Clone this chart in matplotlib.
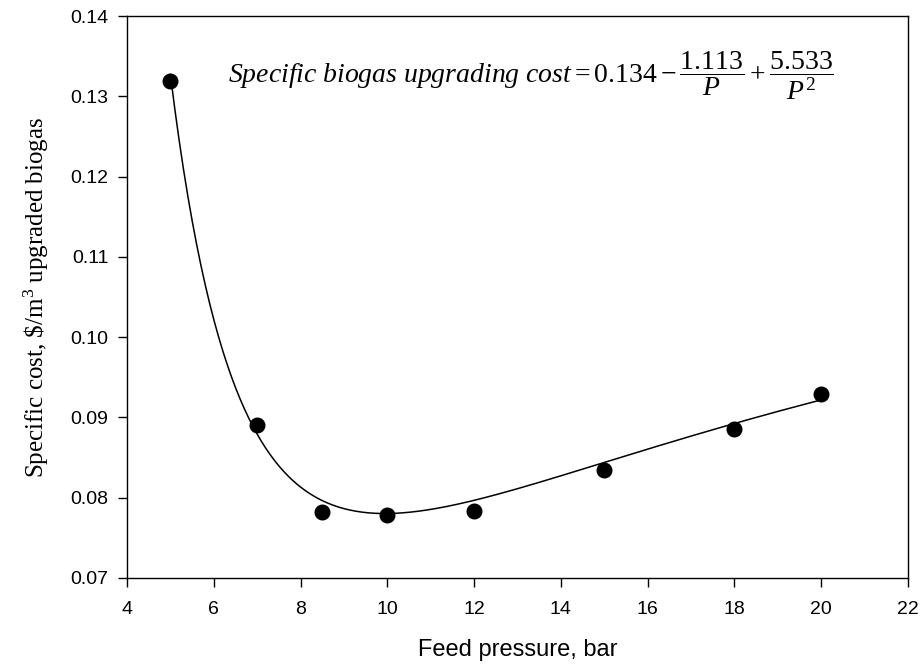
import numpy as np
import matplotlib
matplotlib.use('Agg')
import matplotlib.pyplot as plt

# measured specific upgrading cost vs feed pressure
pressure = [5, 7, 8.5, 10, 12, 15, 18, 20]
cost = [0.1319, 0.0890, 0.0782, 0.0779, 0.0784, 0.0834, 0.0885, 0.0929]

# fitted coefficients: cost = a + b/P + c/P^2
a, b, c = 0.134, -1.113, 5.533

plt.rcParams['mathtext.fontset'] = 'custom'
plt.rcParams['mathtext.rm'] = 'Liberation Serif'
plt.rcParams['mathtext.it'] = 'Liberation Serif:italic'

fig = plt.figure(figsize=(9.22, 6.70), dpi=100)
ax = fig.add_axes([127/922, 1-578/670, (908-127)/922, (578-16)/670])

P = np.linspace(5, 20, 300)
ax.plot(P, a + b/P + c/P**2, 'k-', lw=1.1)
ax.plot(pressure, cost, 'o', color='k', ms=10.5)

ax.set_xlim(4, 22)
ax.set_ylim(0.07, 0.14)
ax.set_xticks(np.arange(4, 23, 2))
ax.set_yticks(np.arange(0.07, 0.1401, 0.01))
ax.set_yticklabels(['%.2f' % v for v in np.arange(0.07, 0.1401, 0.01)])

for lab in ax.get_xticklabels() + ax.get_yticklabels():
    lab.set_fontfamily('Liberation Sans')
    lab.set_fontsize(14)
ax.tick_params(direction='out', length=6.5, width=1, top=False, right=False, pad=7)
ax.tick_params(axis='x', pad=10)
for s in ax.spines.values():
    s.set_linewidth(1)

ax.set_xlabel('Feed pressure, bar', family='Liberation Sans', fontsize=17, labelpad=15)
ax.set_ylabel(r'Specific cost, \$/m$^3$ upgraded biogas', family='Liberation Serif',
              fontsize=18, labelpad=14)

ax.text(13.3, 0.1325,
        r'$\mathit{Specific\ biogas\ upgrading\ cost} = 0.134 - \dfrac{1.113}{\mathit{P}} + \dfrac{5.533}{\mathit{P}^2}$',
        ha='center', va='center', fontsize=20)

fig.savefig('out.png', dpi=100)
